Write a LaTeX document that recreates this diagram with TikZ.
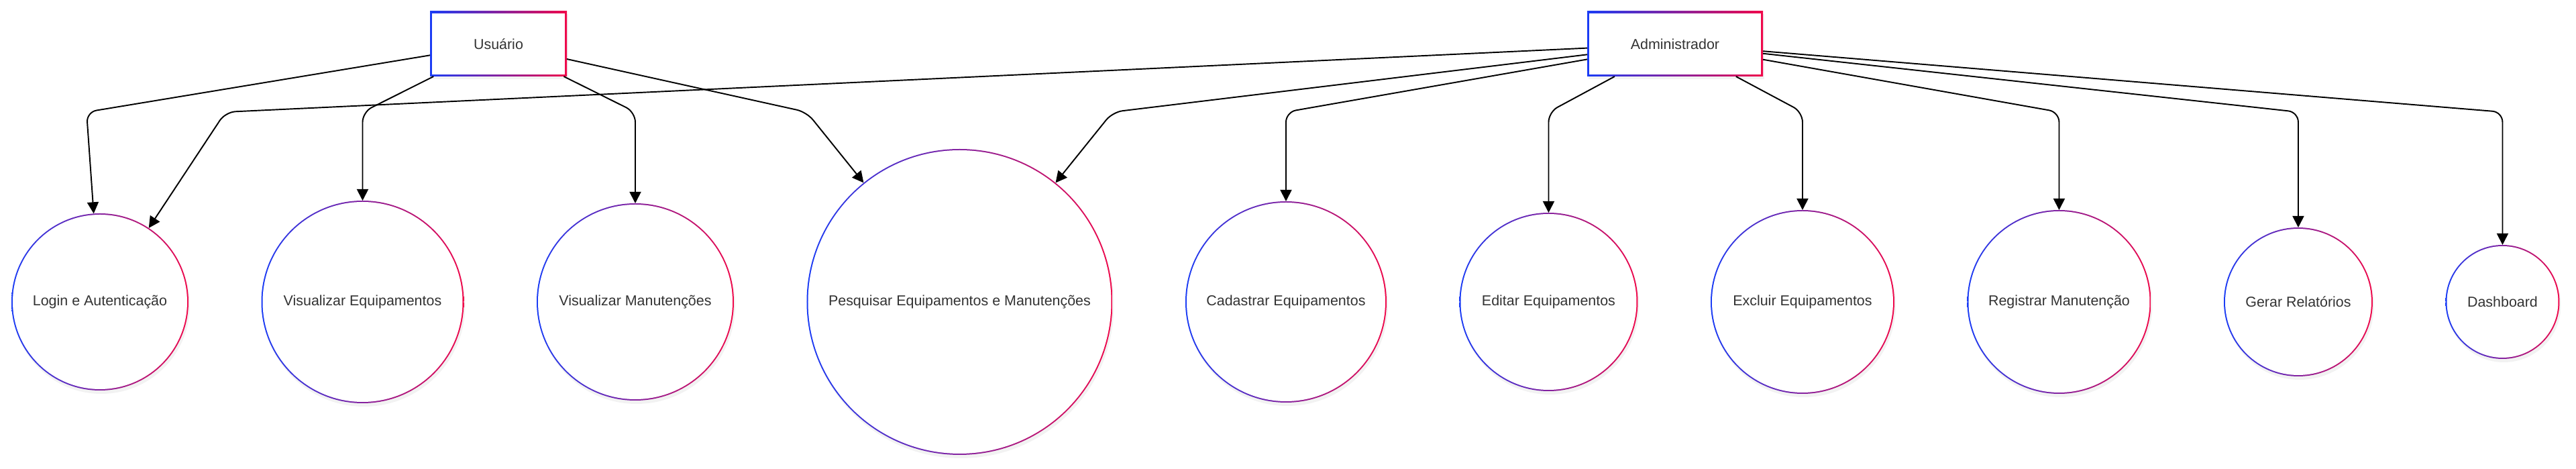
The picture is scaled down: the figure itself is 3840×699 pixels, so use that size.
\documentclass[tikz,border=0pt]{standalone}
\usepackage{xcolor}
\usepackage{fontspec}
\setmainfont{Liberation Sans}
\definecolor{ucblue}{HTML}{1A3CF5}
\definecolor{ucred}{HTML}{F0084A}
\definecolor{darkgray}{HTML}{333333}
\newcommand{\lbl}{\fontsize{6.1}{7.3}\selectfont}
\usepackage{tikz}
\usetikzlibrary{positioning,calc,arrows.meta,shadows}

\begin{document}
\begin{tikzpicture}[x = 0.1mm, y = -0.1mm, node distance = 10.85mm,
    actor/.style={
    	rectangle, minimum width = #1, minimum height = 9.7mm, inner sep = 0pt, outer sep = 0pt,
    	left color = ucblue, right color = ucred, text = darkgray, font = \lbl,
    	drop shadow = {shadow xshift = 0.2mm, shadow yshift = -0.4mm, opacity = 0.1},
    	path picture = {\fill[white] ([shift={(0.3mm,0.3mm)}]path picture bounding box.south west)
    		rectangle ([shift={(-0.3mm,-0.3mm)}]path picture bounding box.north east);}},
    usecase/.style={
    	circle, minimum size = #1, inner sep = 0pt, outer sep = 0pt,
    	left color = ucblue, right color = ucred, text = darkgray, font = \lbl,
    	drop shadow = {shadow xshift = 0.2mm, shadow yshift = -0.5mm, opacity = 0.1},
    	path picture = {\fill[white] (path picture bounding box.center) circle [radius = #1/2 - 0.2mm];}},
    link/.style={line width = 0.55pt, rounded corners = 1.5mm, -{Triangle[length = 1.7mm, width = 1.7mm]}}]
    \useasboundingbox (0,0) rectangle (3840,699);
    	\node (L) [usecase = 26.4mm] at (149,450) {Login e Autenticação};
    	\node (VE) [usecase = 30.2mm, right=of L.east, anchor=west] {Visualizar Equipamentos};
    	\node (VM) [usecase = 29.4mm, right=of VE.east, anchor=west] {Visualizar Manutenções};
    	\node (P) [usecase = 45.6mm, right=of VM.east, anchor=west] {Pesquisar Equipamentos e Manutenções};
    	\node (C) [usecase = 30.0mm, right=of P.east, anchor=west] {Cadastrar Equipamentos};
    	\node (E) [usecase = 26.6mm, right=of C.east, anchor=west] {Editar Equipamentos};
    	\node (X) [usecase = 27.4mm, right=of E.east, anchor=west] {Excluir Equipamentos};
    	\node (R) [usecase = 27.4mm, right=of X.east, anchor=west] {Registrar Manutenção};
    	\node (G) [usecase = 22.2mm, right=of R.east, anchor=west] {Gerar Relatórios};
    	\node (D) [usecase = 17.0mm, right=of G.east, anchor=west] {Dashboard};
    	\node (U) [actor = 20.4mm] at (743,65.5) {Usuário};
    	\node (A) [actor = 26.2mm] at (2497,65.5) {Administrador};
    	\coordinate (bend) at (0,167);
    	\draw[link] (U) -- ($(L |- bend)+(-20,0)$) -- (L);
    	\draw[link] (U) -- (VE |- bend) -- (VE);
    	\draw[link] (U) -- (VM |- bend) -- (VM);
    	\draw[link] (U) -- (P.west |- bend) -- (P);
    	\draw[link] (A) -- ($(L.east |- bend)+(55,0)$) -- (L);
    	\draw[link] (A) -- (P.east |- bend) -- (P);
    	\draw[link] (A) -- (C |- bend) -- (C);
    	\draw[link] (A) -- (E |- bend) -- (E);
    	\draw[link] (A) -- (X |- bend) -- (X);
    	\draw[link] (A) -- (R |- bend) -- (R);
    	\draw[link] (A) -- (G |- bend) -- (G);
    	\draw[link] (A) -- (D |- bend) -- (D);
\end{tikzpicture}
\end{document}
